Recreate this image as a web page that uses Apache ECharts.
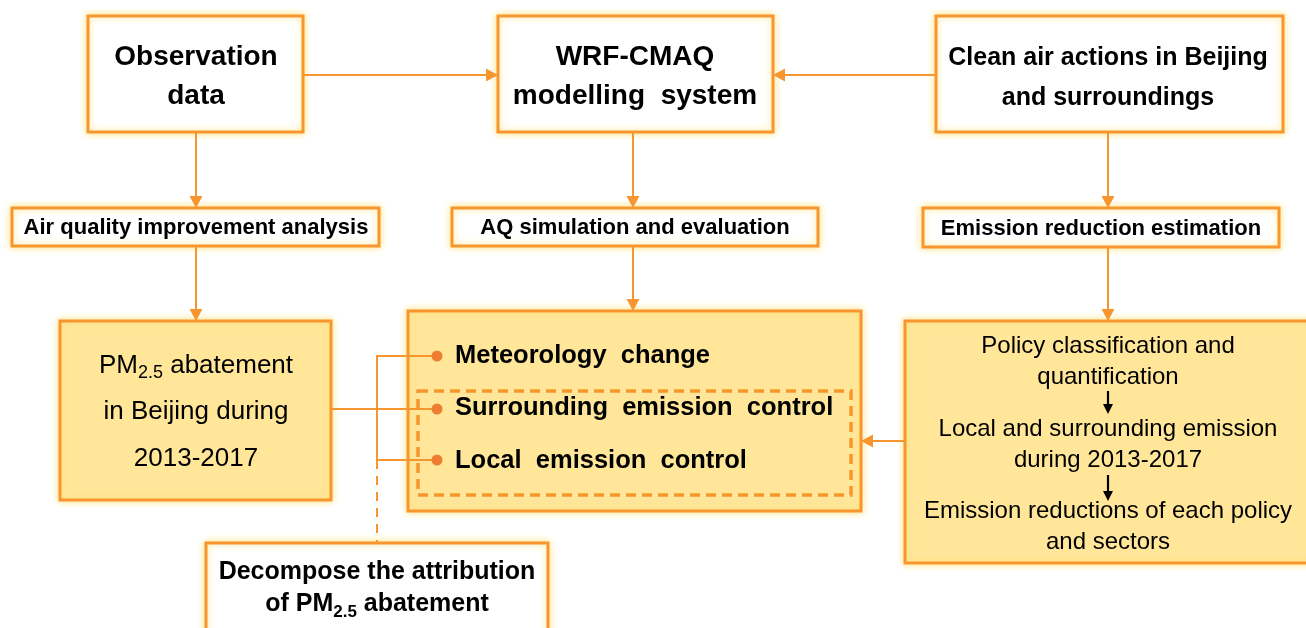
<!DOCTYPE html>
<html>
<head>
<meta charset="utf-8">
<script src="https://cdn.jsdelivr.net/npm/echarts@6/dist/echarts.min.js"></script>
<style>
html,body{margin:0;padding:0;background:#fff;}
#chart{width:1306px;height:628px;}
</style>
</head>
<body>
<div id="chart"></div>
<script>
// ---------- content (data) ----------
const boxLabels = [
  'Observation\ndata',
  'WRF-CMAQ\nmodelling  system',
  'Clean air actions in Beijing\nand surroundings',
  'Air quality improvement analysis',
  'AQ simulation and evaluation',
  'Emission reduction estimation',
  'PM{sub|2.5} abatement\nin Beijing during\n2013-2017',
  '',
  '',
  'Decompose the attribution\nof PM{sub|2.5} abatement'
];
const attributionFactors = ['Meteorology  change', 'Surrounding  emission  control', 'Local  emission  control'];
const policySteps = [
  'Policy classification and\nquantification',
  'Local and surrounding emission\nduring 2013-2017',
  'Emission reductions of each policy\nand sectors'
];

// ---------- layout (diagram coordinates) ----------
const boxRects = [
  [88, 16, 303, 132],
  [498, 16, 773, 132],
  [936, 16, 1283, 132],
  [12, 208, 379, 246],
  [452, 208, 818, 246],
  [923, 208, 1279, 247],
  [60, 321, 331, 500],
  [408, 311, 861, 511],
  [905, 321, 1312, 563],
  [206, 543, 548, 640]
];
const boxFill = ['#fff', '#fff', '#fff', '#fff', '#fff', '#fff', '#FFE699', '#FFE699', '#FFE699', '#fff'];
// [x, y, align, fontSize, weight, lineHeight]
const textLayout = [
  [196, 77, 'center', 28, 'bold', 39],
  [635, 77, 'center', 28, 'bold', 39],
  [1108, 78, 'center', 25, 'bold', 40],
  [196, 228, 'center', 22, 'bold', 24],
  [635, 228, 'center', 22, 'bold', 24],
  [1101, 229, 'center', 22, 'bold', 24],
  [196, 412, 'center', 26, 'normal', 46.5],
  [455, 408, 'left', 25.5, 'bold', 52.5],
  [1108, 0, 'center', 24, 'normal', 31],
  [377, 588, 'center', 25, 'bold', 32]
];
const policyY = [361.5, 444.5, 527];
const dotPoints = [[437, 356], [437, 409], [437, 460]];
// [x0, y0, x1, y1]
const flowArrows = [
  [303, 75, 498, 75],
  [936, 75, 773, 75],
  [196, 132, 196, 208],
  [633, 132, 633, 208],
  [1108, 132, 1108, 208],
  [196, 246, 196, 321],
  [633, 246, 633, 311],
  [1108, 247, 1108, 321],
  [905, 441, 861, 441]
];
const stepArrows = [
  [1108, 391, 1108, 414],
  [1108, 475, 1108, 501]
];
const connectors = [
  [[331, 409], [437, 409]],
  [[437, 356], [377, 356], [377, 460], [437, 460]]
];
const dashedLink = [[[377, 460], [377, 543]]];
const innerGroup = [[418, 391, 851, 495]];

const ORANGE = '#F7962F';
const FONT = '"Liberation Sans", Arial, sans-serif';

function renderBox(params, api) {
  const i = params.dataIndex;
  const p0 = api.coord([api.value(0), api.value(1)]);
  const p1 = api.coord([api.value(2), api.value(3)]);
  const children = [{
    type: 'rect',
    shape: {x: p0[0], y: p0[1], width: p1[0] - p0[0], height: p1[1] - p0[1]},
    style: {fill: boxFill[i], stroke: ORANGE, lineWidth: 3,
      shadowBlur: 7, shadowColor: 'rgba(255,226,120,0.95)'}
  }];
  const t = textLayout[i];
  const mk = (txt, x, y) => {
    const c = api.coord([x, y]);
    return {
      type: 'text',
      style: {
        text: txt, x: c[0], y: c[1], align: t[2], verticalAlign: 'middle',
        fontFamily: FONT, fontSize: t[3], fontWeight: t[4], lineHeight: t[5], fill: '#000',
        rich: {
          sub: {fontFamily: FONT, fontSize: Math.round(t[3] * 0.68), fontWeight: t[4], fill: '#000',
            verticalAlign: 'middle', padding: [16, 0, 0, 0], lineHeight: t[5] - 16}
        }
      }
    };
  };
  if (i === 7) {
    children.push(mk(attributionFactors.join('\n'), t[0], t[1]));
  } else if (i === 8) {
    policySteps.forEach((s, k) => children.push(mk(s, t[0], policyY[k])));
  } else {
    children.push(mk(boxLabels[i], t[0], t[1]));
  }
  return {type: 'group', children: children};
}

function renderGroupRect(params, api) {
  const p0 = api.coord([api.value(0), api.value(1)]);
  const p1 = api.coord([api.value(2), api.value(3)]);
  return {
    type: 'rect',
    shape: {x: p0[0], y: p0[1], width: p1[0] - p0[0], height: p1[1] - p0[1]},
    style: {fill: 'none', stroke: ORANGE, lineWidth: 3.5, lineDash: [10, 6]}
  };
}

function makeArrowRenderer(color, headLen, headHalf, width) {
  return function (params, api) {
    const a = api.coord([api.value(0), api.value(1)]);
    const b = api.coord([api.value(2), api.value(3)]);
    const dx = b[0] - a[0], dy = b[1] - a[1];
    const len = Math.sqrt(dx * dx + dy * dy) || 1;
    const ux = dx / len, uy = dy / len;
    const bx = b[0] - ux * headLen, by = b[1] - uy * headLen;
    return {
      type: 'group',
      children: [
        {type: 'line', shape: {x1: a[0], y1: a[1], x2: bx, y2: by},
          style: {stroke: color, lineWidth: width}},
        {type: 'polygon', shape: {points: [
          [b[0], b[1]],
          [bx - uy * headHalf, by + ux * headHalf],
          [bx + uy * headHalf, by - ux * headHalf]
        ]}, style: {fill: color}}
      ]
    };
  };
}

const chart = echarts.init(document.getElementById('chart'), null, {renderer: 'canvas'});
chart.setOption({
  animation: false,
  backgroundColor: '#fff',
  grid: {left: 0, right: 0, top: 0, bottom: 0},
  xAxis: {type: 'value', min: 0, max: 1306, show: false},
  yAxis: {type: 'value', min: 0, max: 628, inverse: true, show: false},
  series: [
    {
      type: 'custom', coordinateSystem: 'cartesian2d', z: 2,
      renderItem: renderBox,
      data: boxRects.map(r => r.slice())
    },
    {
      type: 'custom', coordinateSystem: 'cartesian2d', z: 3,
      renderItem: renderGroupRect,
      data: innerGroup.map(r => r.slice())
    },
    {
      type: 'custom', coordinateSystem: 'cartesian2d', z: 4,
      renderItem: makeArrowRenderer(ORANGE, 12, 6.5, 2),
      data: flowArrows.map(r => r.slice())
    },
    {
      type: 'custom', coordinateSystem: 'cartesian2d', z: 4,
      renderItem: makeArrowRenderer('#000', 10, 5, 2.2),
      data: stepArrows.map(r => r.slice())
    },
    {
      type: 'lines', coordinateSystem: 'cartesian2d', polyline: true, z: 4,
      symbol: 'none',
      lineStyle: {color: ORANGE, width: 2, opacity: 1},
      data: connectors.map(c => ({coords: c}))
    },
    {
      type: 'lines', coordinateSystem: 'cartesian2d', z: 4,
      symbol: 'none',
      lineStyle: {color: ORANGE, width: 2, opacity: 1, type: [9, 7]},
      data: dashedLink.map(c => ({coords: c}))
    },
    {
      type: 'scatter', z: 5, symbolSize: 11,
      itemStyle: {color: '#ED7D31', opacity: 1},
      data: dotPoints.map(p => p.slice())
    }
  ]
});
</script>
</body>
</html>
